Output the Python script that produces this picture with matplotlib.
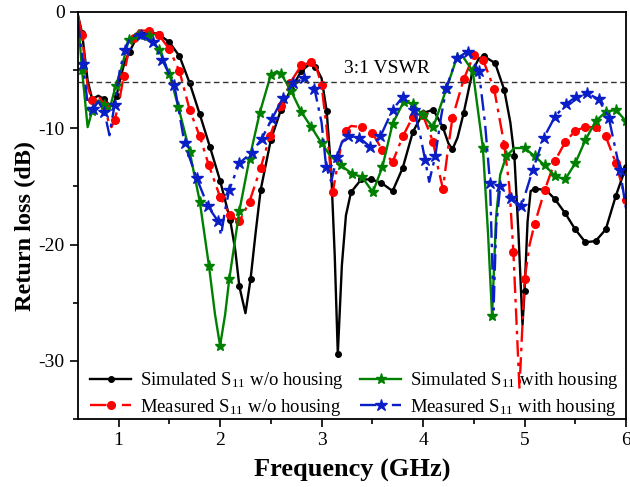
import numpy as np
import matplotlib
matplotlib.use("Agg")
import matplotlib.pyplot as plt

plt.rcParams['font.family'] = ['Liberation Serif', 'DejaVu Serif']
plt.rcParams['mathtext.fontset'] = 'custom'
plt.rcParams['mathtext.rm'] = 'Liberation Serif'
plt.rcParams['mathtext.it'] = 'Liberation Serif:italic'
plt.rcParams['mathtext.bf'] = 'Liberation Serif:bold'
plt.rcParams['axes.unicode_minus'] = False

sim_wo_x = [0.60, 0.64, 0.695, 0.74, 0.80, 0.86, 0.90, 0.94, 0.98, 1.02, 1.06, 1.11, 1.16, 1.22, 1.30,
            1.395, 1.50, 1.60, 1.70, 1.80, 1.90, 2.00, 2.10, 2.15, 2.19, 2.25, 2.30, 2.35, 2.40, 2.50,
            2.60, 2.70, 2.80, 2.88, 2.94, 3.00, 3.05, 3.095, 3.13, 3.16, 3.20, 3.24, 3.29, 3.39, 3.49,
            3.59, 3.70, 3.80, 3.90, 4.00, 4.10, 4.195, 4.25, 4.29, 4.34, 4.40, 4.49, 4.55, 4.60, 4.71,
            4.80, 4.86, 4.90, 4.94, 4.98, 5.00, 5.03, 5.06, 5.10, 5.21, 5.30, 5.40, 5.50, 5.60, 5.70,
            5.80, 5.90, 6.00]
sim_wo_y = [-0.3, -1.8, -5.9, -7.5, -7.2, -7.5, -7.9, -8.1, -7.2, -5.6, -4.3, -3.4, -2.5, -1.9, -1.7,
            -1.9, -2.6, -3.8, -6.1, -8.8, -11.6, -14.5, -17.9, -20.5, -23.6, -25.9, -23.0, -19.0, -15.3, -11.0,
            -8.4, -6.6, -5.1, -4.5, -4.7, -5.7, -8.5, -13.7, -21.0, -29.4, -21.8, -17.5, -15.5, -14.4, -14.4,
            -14.7, -15.4, -13.4, -10.3, -8.7, -8.4, -9.9, -11.3, -11.8, -10.8, -8.7, -5.0, -4.0, -3.8, -4.4,
            -6.7, -9.5, -12.4, -19.0, -26.9, -24.0, -18.0, -15.4, -15.2, -15.3, -16.1, -17.3, -18.7, -19.8, -19.7,
            -18.7, -15.8, -13.3]

meas_wo_x = [0.60, 0.64, 0.695, 0.74, 0.80, 0.86, 0.90, 0.93, 0.96, 1.00, 1.05, 1.10, 1.15, 1.20, 1.30,
             1.40, 1.50, 1.60, 1.70, 1.80, 1.89, 2.00, 2.10, 2.19, 2.29, 2.40, 2.49, 2.60, 2.69, 2.80,
             2.90, 2.95, 3.00, 3.05, 3.11, 3.15, 3.19, 3.24, 3.29, 3.40, 3.50, 3.60, 3.70, 3.80, 3.90,
             4.00, 4.10, 4.15, 4.196, 4.25, 4.29, 4.40, 4.50, 4.59, 4.70, 4.80, 4.85, 4.89, 4.95, 5.00,
             5.05, 5.10, 5.20, 5.30, 5.40, 5.50, 5.60, 5.70, 5.80, 5.90, 6.00]
meas_wo_y = [-0.3, -2.0, -6.4, -7.6, -7.2, -8.0, -9.4, -9.9, -9.3, -8.0, -5.5, -3.3, -2.2, -1.6, -1.6,
             -2.0, -3.2, -5.1, -8.4, -10.7, -13.2, -15.9, -17.5, -18.0, -16.3, -13.4, -10.7, -8.1, -6.1, -4.6,
             -4.3, -4.8, -6.3, -10.0, -15.5, -13.5, -11.6, -10.2, -9.8, -9.9, -10.4, -11.9, -12.9, -10.7, -9.0,
             -8.9, -11.2, -13.5, -15.2, -11.5, -9.1, -5.8, -3.7, -4.1, -6.6, -11.4, -15.0, -20.6, -32.4, -23.0,
             -20.0, -18.2, -15.3, -12.8, -11.2, -10.2, -9.9, -9.9, -10.7, -13.0, -16.2]

sim_w_x = [0.60, 0.64, 0.695, 0.74, 0.80, 0.86, 0.91, 0.97, 1.02, 1.10, 1.20, 1.30, 1.40, 1.50, 1.59,
           1.70, 1.80, 1.89, 1.95, 2.00, 2.05, 2.09, 2.19, 2.29, 2.39, 2.50, 2.56, 2.60, 2.70, 2.80,
           2.90, 3.00, 3.08, 3.19, 3.30, 3.40, 3.505, 3.60, 3.70, 3.81, 3.90, 4.00, 4.10, 4.16, 4.23,
           4.33, 4.39, 4.49, 4.59, 4.64, 4.68, 4.72, 4.76, 4.82, 4.90, 5.00, 5.10, 5.20, 5.30, 5.40,
           5.50, 5.60, 5.70, 5.80, 5.90, 6.00]
sim_w_y = [-0.6, -5.0, -9.9, -8.5, -7.6, -8.0, -8.4, -6.4, -5.1, -2.4, -2.0, -2.1, -3.3, -5.3, -8.2,
           -12.0, -16.3, -21.8, -26.0, -28.7, -26.0, -23.0, -17.1, -12.6, -8.7, -5.4, -5.1, -5.3, -6.8, -8.6,
           -9.9, -11.3, -12.3, -13.2, -13.9, -14.2, -15.5, -13.3, -9.6, -7.7, -7.9, -8.9, -9.9, -8.4, -6.6,
           -4.0, -3.8, -5.1, -11.7, -19.0, -26.1, -17.6, -14.0, -12.4, -11.7, -11.7, -12.4, -13.2, -14.1, -14.4,
           -13.0, -11.0, -9.4, -8.6, -8.4, -9.4]

meas_w_x = [0.60, 0.65, 0.705, 0.75, 0.80, 0.86, 0.91, 0.96, 1.01, 1.06, 1.12, 1.22, 1.34, 1.43, 1.55,
            1.65, 1.77, 1.88, 1.98, 2.01, 2.05, 2.09, 2.19, 2.31, 2.41, 2.51, 2.62, 2.72, 2.83, 2.93,
            3.00, 3.045, 3.095, 3.15, 3.20, 3.26, 3.37, 3.48, 3.58, 3.70, 3.80, 3.91, 3.97, 4.02, 4.06,
            4.12, 4.18, 4.23, 4.33, 4.44, 4.55, 4.61, 4.66, 4.695, 4.72, 4.76, 4.87, 4.97, 5.08, 5.19,
            5.30, 5.41, 5.51, 5.62, 5.73, 5.83, 5.94, 6.00]
meas_w_y = [-0.8, -4.5, -8.6, -8.3, -7.7, -8.6, -10.6, -8.0, -5.1, -3.3, -2.1, -2.0, -2.6, -4.1, -6.3,
            -11.3, -14.3, -16.7, -18.0, -19.2, -17.0, -15.3, -13.0, -12.1, -10.9, -9.2, -7.4, -6.1, -5.7, -6.6,
            -9.5, -13.3, -14.6, -12.5, -11.2, -10.7, -10.8, -11.6, -10.7, -8.4, -7.3, -8.4, -10.5, -12.7, -14.6,
            -12.4, -8.9, -6.5, -4.0, -3.4, -5.1, -9.5, -14.7, -25.6, -18.5, -15.0, -16.0, -16.7, -13.6, -10.8,
            -9.0, -7.9, -7.3, -7.0, -7.5, -9.1, -13.6, -16.9]

labels = ["Simulated S$_{11}$ w/o housing", "Measured S$_{11}$ w/o housing",
          "Simulated S$_{11}$ with housing", "Measured S$_{11}$ with housing"]
vswr_level = -6
vswr_label = "3:1 VSWR"


def marks(xs, gap=0.085):
    idx = [1]
    for i in range(2, len(xs)):
        if xs[i] - xs[idx[-1]] >= gap:
            idx.append(i)
    return idx


fig = plt.figure(figsize=(6.3, 4.87), dpi=100)
ax = fig.add_axes([0.1238, 0.1396, 0.8699, 0.8358])

dd = (7, 2.5, 1.5, 2.5)
l1, = ax.plot(sim_wo_x, sim_wo_y, color='black', lw=1.7, marker='o', ms=4,
              markevery=marks(sim_wo_x), label=labels[0])
l2, = ax.plot(meas_wo_x, meas_wo_y, color='#ff0000', lw=1.7, marker='o', ms=5.5,
              markevery=marks(meas_wo_x), dashes=dd, label=labels[1])
l3, = ax.plot(sim_w_x, sim_w_y, color='#008000', lw=1.7, marker='*', ms=8,
              markevery=marks(sim_w_x), label=labels[2])
l4, = ax.plot(meas_w_x, meas_w_y, color='#0a1ec8', lw=1.7, marker='*', ms=9,
              markevery=marks(meas_w_x), dashes=dd, label=labels[3])

ax.axhline(vswr_level, color='#333333', lw=1.0, ls=(0, (4, 2.5)))
ax.text(3.22, -4.9, vswr_label, fontsize=14, va='center', ha='left')

ax.set_xlim(0.6, 6)
ax.set_ylim(-35, 0)
ax.set_xticks([1, 2, 3, 4, 5, 6])
ax.set_xticks(np.arange(1.5, 6, 1.0), minor=True)
ax.set_yticks([0, -10, -20, -30])
ax.set_yticks([-5, -15, -25, -35], minor=True)
ax.tick_params(axis='both', which='major', direction='out', length=6, width=1.2, labelsize=14)
ax.tick_params(axis='both', which='minor', direction='out', length=3.5, width=1.2)
ax.tick_params(top=False, right=False)
for s in ax.spines.values():
    s.set_linewidth(1.3)

ax.set_xlabel("Frequency (GHz)", fontsize=19, fontweight='bold', labelpad=7)
ax.set_ylabel("Return loss (dB)", fontsize=17.5, fontweight='bold', labelpad=2)
ax.yaxis.label.set_y(0.475)

leg = ax.legend(handles=[l1, l2, l3, l4], ncol=2, loc='lower left',
                bbox_to_anchor=(0.005, -0.02), frameon=False, fontsize=13.5,
                handlelength=2.2, handletextpad=0.45, columnspacing=0.9,
                labelspacing=0.3, borderpad=0.3, borderaxespad=0.2)

fig.savefig("out.png", dpi=100)
